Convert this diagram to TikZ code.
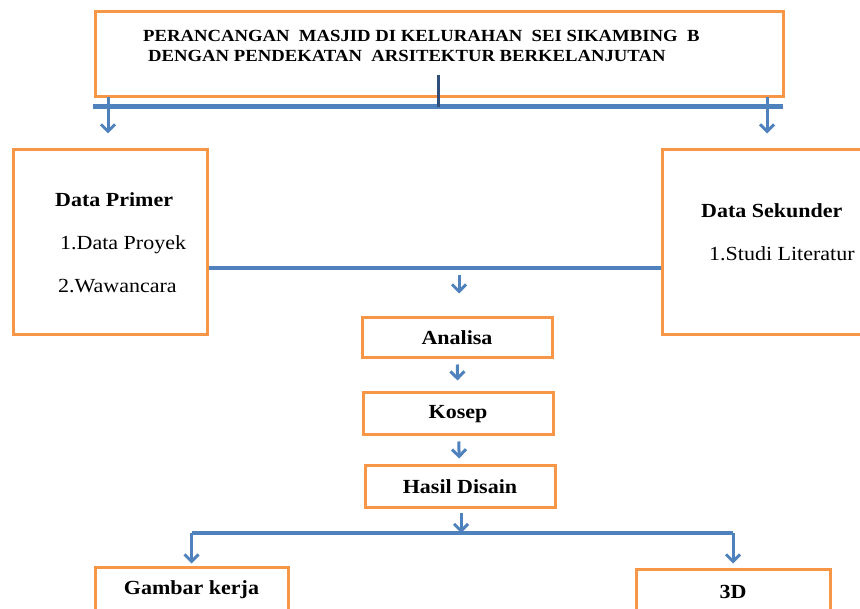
\documentclass[tikz,border=0pt]{standalone}
\usepackage{fontspec}
\setmainfont[FakeStretch=1.1]{Liberation Serif}
\usetikzlibrary{arrows.meta, positioning}
\definecolor{garisOranye}{HTML}{F79646}
\definecolor{panahBiru}{HTML}{4F81BD}
\definecolor{biruTua}{HTML}{2F4F7A}

\begin{document}
\begin{tikzpicture}[x=1pt, y=-1pt,
        f/.style={draw=garisOranye, fill=white, line width=3pt, inner sep=0pt,
            minimum width=190pt, font=\fontsize{20}{24}\selectfont\bfseries},
        teks/.style={align=left, inner sep=0pt, font=\fontsize{20}{43}\selectfont},
        rel/.style={-{Straight Barb[length=7pt, width=14pt]}, panahBiru, line width=3pt},
        garis/.style={panahBiru, line width=3.5pt}
    ]
    \useasboundingbox (0,0) rectangle (860,609);
    % kotak judul
    \node[f, minimum width=688pt, minimum height=85pt] (judul) at (439,54.5) {};
    \node[align=left, inner sep=0pt, font=\fontsize{17}{20}\selectfont\bfseries, anchor=west] (judulteks) at (143,46)
        {PERANCANGAN ~MASJID DI KELURAHAN ~SEI SIKAMBING ~B\\ \hspace*{5pt}DENGAN PENDEKATAN ~ARSITEKTUR BERKELANJUTAN};
    % data
    \node[f, minimum width=194pt, minimum height=185pt] (primer) at (110,242.5) {};
    \node[teks, anchor=west] at ([xshift=-55pt]primer.center)
        {\textbf{Data Primer}\\ \hspace*{5pt}1.Data Proyek\\ \hspace*{3pt}2.Wawancara};
    \node[f, minimum width=218pt, minimum height=185pt] (sekunder) at (771,242.5) {};
    \node[teks, anchor=west] at ([xshift=-70pt, yshift=10pt]sekunder.center)
        {\textbf{Data Sekunder}\\ \hspace*{8pt}1.Studi Literatur};
    % alur tengah
    \node[f, minimum height=40pt] (analisa) at (457,338) {Analisa};
    \node[f, minimum height=42pt] (kosep) at (458,414) {Kosep};
    \node[f, minimum height=42pt] (hasil) at (460,487) {Hasil Disain};
    \node[f, minimum width=193pt, minimum height=45pt] (gambar) at (191.5,589.5) {Gambar kerja};
    \node[f, minimum width=194pt, minimum height=45pt] (tigad) at (733,591.5) {3D};
    % garis dari judul
    \coordinate (pusat) at (438,75);
    \coordinate (bkiri) at (93,107);
    \coordinate (bkanan) at (783,107);
    \draw[garis, line width=5pt] (bkiri) -- (bkanan);
    \draw[biruTua, line width=3pt] (pusat) -- (pusat |- bkiri);
    \coordinate (k1) at (108,97);
    \coordinate (k2) at (767,97);
    \draw[rel, shorten >=15pt] (k1) -- (k1 |- primer.north);
    \draw[rel, shorten >=15pt] (k2) -- (k2 |- sekunder.north);
    % gabungan data
    \coordinate (m) at (459,268);
    \draw[garis] (m -| primer.east) -- (m -| sekunder.west);
    \draw[rel, shorten <=7pt, shorten >=23pt] (m) -- (m |- analisa.north);
    \draw[rel, shorten <=5pt, shorten >=11pt] (analisa) -- (kosep);
    \draw[rel, shorten <=5pt, shorten >=6pt] (kosep) -- (hasil);
    % cabang hasil
    \coordinate (c) at (461,533);
    \draw[rel, shorten <=4pt] (c |- hasil.south) -- (c);
    \draw[garis] (c -| gambar) -- (c -| tigad);
    \draw[rel, shorten >=2pt] (c -| gambar) -- (gambar.north);
    \draw[rel, shorten >=4pt] (c -| tigad) -- (tigad.north);
\end{tikzpicture}
\end{document}
